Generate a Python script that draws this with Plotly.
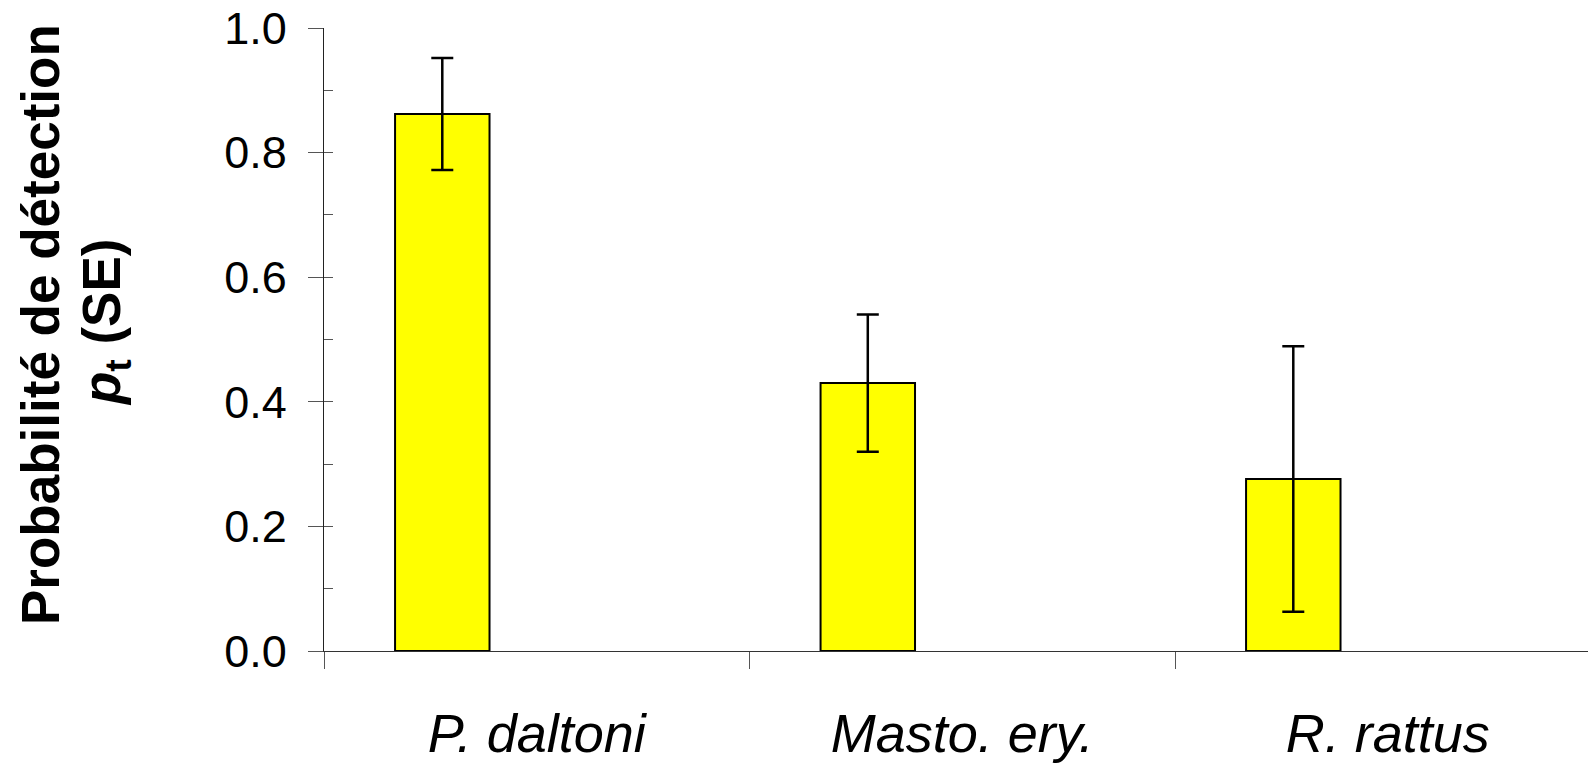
import plotly.graph_objects as go

categories = ["P. daltoni", "Masto. ery.", "R. rattus"]
values = [0.862, 0.430, 0.276]
errors = [0.090, 0.110, 0.213]
y_ticks = [0.0, 0.2, 0.4, 0.6, 0.8, 1.0]

W, H = 1588, 763
ML, MR, MT, MB = 324, 0, 28, 112
cat_px = 425.5
plot_w = W - ML - MR
plot_h = H - MT - MB
x_max = -0.5 + plot_w / cat_px

FONT = "Liberation Sans, Arial, sans-serif"

fig = go.Figure()
fig.add_trace(go.Bar(
    x=categories, y=values,
    width=0.222, offset=-0.333,
    marker=dict(color="#FFFF00", line=dict(color="black", width=2)),
    error_y=dict(type="data", array=errors, visible=True,
                 color="black", thickness=2.5, width=11),
    showlegend=False,
))
# invisible trace for minor inside ticks axis
fig.add_trace(go.Scatter(x=[categories[0]], y=[0], yaxis="y2",
                         mode="markers", marker=dict(opacity=0),
                         showlegend=False, hoverinfo="skip"))

fig.update_layout(
    width=W, height=H,
    margin=dict(l=ML, r=MR, t=MT, b=MB),
    paper_bgcolor="white", plot_bgcolor="white",
    font=dict(family=FONT, color="black"),
    xaxis=dict(
        type="category", range=[-0.5, x_max],
        tickson="boundaries", ticks="outside", ticklen=17,
        tickcolor="#555", tickwidth=1.3,
        showline=True, linecolor="#333", linewidth=1.3,
        showgrid=False, zeroline=False,
        tickfont=dict(size=54, family=FONT, style="italic"),
        ticklabelstandoff=35,
    ),
    yaxis=dict(
        range=[0, 1.0], tickvals=y_ticks, tickformat=".1f",
        ticks="outside", ticklen=15, tickcolor="#555", tickwidth=1.3,
        showline=True, linecolor="#222", linewidth=1.3,
        showgrid=False, zeroline=False,
        tickfont=dict(size=45),
        ticklabelstandoff=12,
    ),
    yaxis2=dict(
        overlaying="y", side="left", anchor="x",
        range=[0, 1.0], dtick=0.1, tick0=0,
        ticks="inside", ticklen=9, tickcolor="#555", tickwidth=1.3,
        showticklabels=False, showline=False, showgrid=False, zeroline=False,
    ),
    annotations=[
        dict(
            xref="paper", yref="paper",
            x=-(ML - 40) / plot_w, y=(H - MB - 325) / plot_h,
            xanchor="center", yanchor="middle",
            text="<b>Probabilité de détection</b>",
            textangle=-90, showarrow=False,
            font=dict(size=53, family=FONT, color="black"),
        ),
        dict(
            xref="paper", yref="paper",
            x=-(ML - 105) / plot_w, y=(H - MB - 323) / plot_h,
            xanchor="center", yanchor="middle",
            text="<b><i>p</i><sub>t</sub> (SE)</b>",
            textangle=-90, showarrow=False,
            font=dict(size=53, family=FONT, color="black"),
        ),
    ],
)

fig.write_html("out.html")
